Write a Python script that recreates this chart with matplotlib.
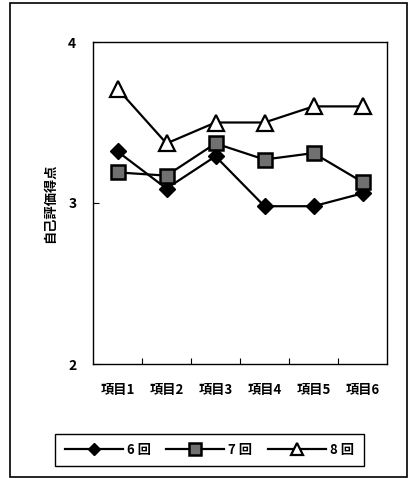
import matplotlib
matplotlib.use("Agg")
import matplotlib.pyplot as plt
from matplotlib.patches import Rectangle

plt.rcParams['font.family'] = ['Noto Sans CJK JP', 'DejaVu Sans']

categories = ["項目1", "項目2", "項目3", "項目4", "項目5", "項目6"]
s6 = [3.32, 3.09, 3.29, 2.98, 2.98, 3.06]
s7 = [3.19, 3.17, 3.37, 3.27, 3.31, 3.13]
s8 = [3.71, 3.37, 3.50, 3.50, 3.60, 3.60]
series_labels = ["6 回", "7 回", "8 回"]
yticks = [2, 3, 4]

W, H = 409, 478
fig = plt.figure(figsize=(W/100, H/100), dpi=100)
ax = fig.add_axes([93/W, 1-364/H, (387-93)/W, (364-42)/H])

x = list(range(len(categories)))
ax.plot(x, s6, color='black', lw=1.6, marker='D', ms=8, mfc='black', mec='black', label=series_labels[0])
ax.plot(x, s7, color='black', lw=1.6, marker='s', ms=10, mfc='#707070', mec='black', mew=1.8, label=series_labels[1])
ax.plot(x, s8, color='black', lw=1.6, marker='^', ms=11, mfc='white', mec='black', mew=1.6, label=series_labels[2])

ax.set_xlim(-0.5, len(categories)-0.5)
ax.set_ylim(2, 4)
ax.set_yticks(yticks)
ax.set_yticklabels([str(v) for v in yticks], fontsize=10, fontweight='bold')
ax.tick_params(axis='y', direction='in', length=4, pad=12)
ax.set_xticks([i+0.5 for i in range(len(categories)-1)], minor=False)
ax.set_xticklabels([])
ax.tick_params(axis='x', direction='in', length=4)
for i, c in enumerate(categories):
    ax.text(i, -0.08, c, transform=ax.get_xaxis_transform(), ha='center', va='center',
            fontsize=9.5, fontweight='bold')
for sp in ax.spines.values():
    sp.set_linewidth(1.0)
    sp.set_color('black')

ax.set_ylabel("自己評価得点", fontsize=9.5, fontweight='bold', labelpad=8)

leg = fig.legend(loc='center', bbox_to_anchor=(209.5/W, 1-450/H), ncol=3,
                 handlelength=4.4, columnspacing=1.2, handletextpad=0.3,
                 fancybox=False, edgecolor='black', framealpha=1,
                 prop={'size': 9.5, 'weight': 'bold'}, borderpad=0.7)
leg.get_frame().set_linewidth(1.0)
for h in leg.legend_handles:
    h.set_markersize(h.get_markersize()*0.8)

fig.patches.append(Rectangle((10/W, 1-477/H), 397/W, 474/H, transform=fig.transFigure,
                             fill=False, edgecolor='black', lw=1.2))

fig.savefig("out.png", dpi=100)
